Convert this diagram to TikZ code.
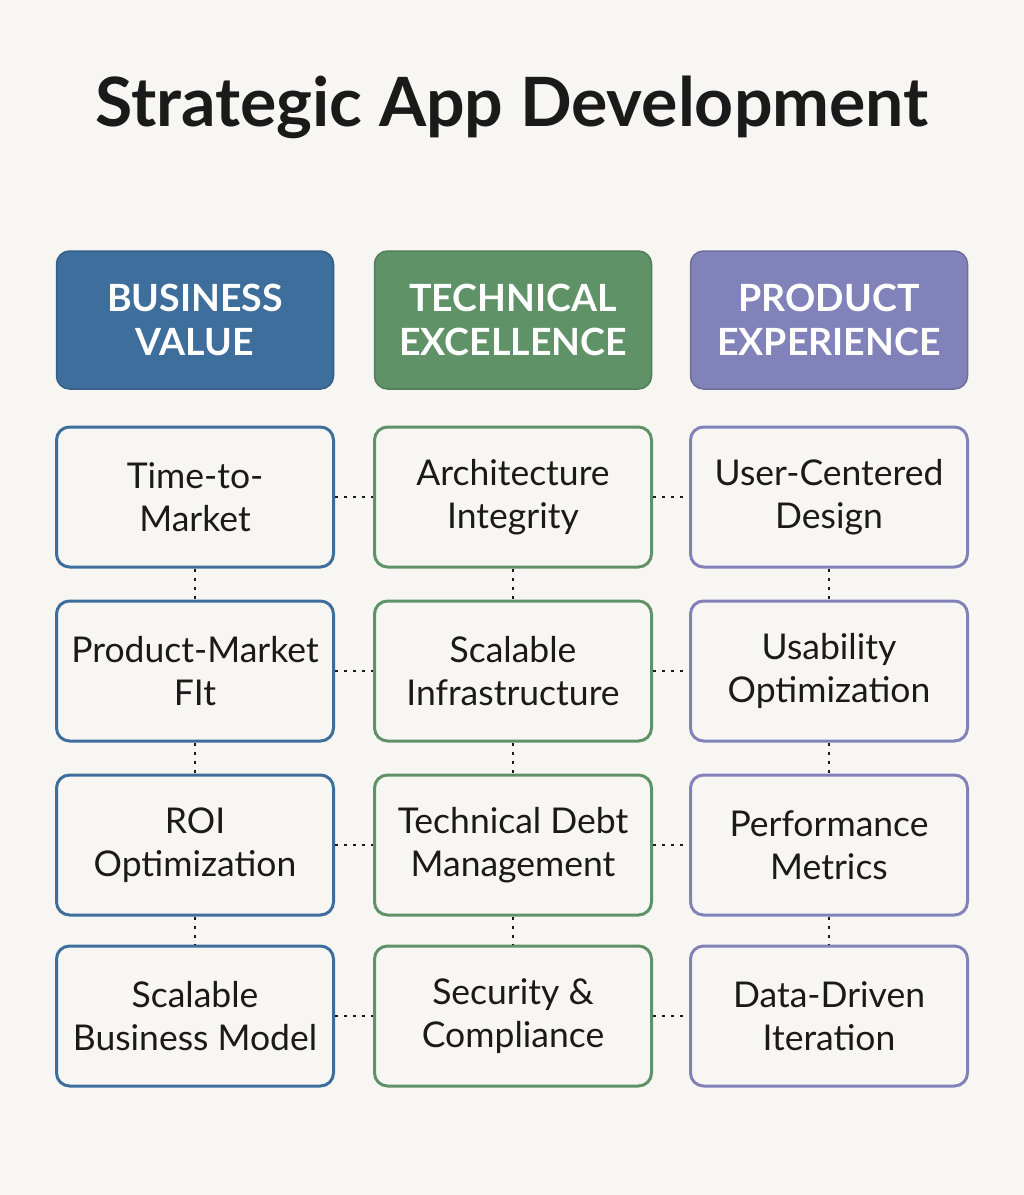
\documentclass[tikz,border=0pt]{standalone}
\usepackage{fontspec}
\setmainfont{Lato}
\definecolor{bgcol}{HTML}{F8F6F2}
\definecolor{bizcol}{HTML}{3E6E9C}
\definecolor{techcol}{HTML}{5F9367}
\definecolor{prodcol}{HTML}{8282BA}
\definecolor{inkcol}{HTML}{1A1A1A}
\tikzset{
  headbox/.style={rounded corners=13pt, line width=1.5pt, minimum width=277pt, minimum height=138pt, align=center, text=white, font=\fontsize{37.5}{44}\selectfont\bfseries},
  itembox/.style={rounded corners=13pt, line width=3pt, fill=bgcol, minimum width=277pt, minimum height=140pt, align=center, text=inkcol, font=\fontsize{35.5}{43}\selectfont},
  link/.style={line width=2.5pt, inkcol, dash pattern=on 3pt off 6pt}
}
\begin{document}
\begin{tikzpicture}[x=1pt,y=-1pt]
\useasboundingbox[fill=bgcol] (0,0) rectangle (1024,1195);
\node[text=inkcol, font=\fontsize{68}{76}\selectfont\bfseries] (title) at (512,107) {Strategic App Development};
% headers
\node[headbox, fill=bizcol, draw=bizcol!85!black] (h1) at (195,320) {BUSINESS\\VALUE};
\node[headbox, fill=techcol, draw=techcol!85!black] (h2) at (513,320) {TECHNICAL\\EXCELLENCE};
\node[headbox, fill=prodcol, draw=prodcol!85!black] (h3) at (829,320) {PRODUCT\\EXPERIENCE};
% business value
\node[itembox, draw=bizcol] (b1) at (195,497) {Time-to-\\Market};
\node[itembox, draw=bizcol] (b2) at (195,671) {Product-Market\\FIt};
\node[itembox, draw=bizcol] (b3) at (195,845) {ROI\\Optimization};
\node[itembox, draw=bizcol] (b4) at (195,1016) {Scalable\\Business Model};
% technical excellence
\node[itembox, draw=techcol] (t1) at (513,497) {Architecture\\Integrity};
\node[itembox, draw=techcol] (t2) at (513,671) {Scalable\\Infrastructure};
\node[itembox, draw=techcol] (t3) at (513,845) {Technical Debt\\Management};
\node[itembox, draw=techcol] (t4) at (513,1016) {Security \&\\Compliance};
% product experience
\node[itembox, draw=prodcol] (p1) at (829,497) {User-Centered\\Design};
\node[itembox, draw=prodcol] (p2) at (829,671) {Usability\\Optimization};
\node[itembox, draw=prodcol] (p3) at (829,845) {Performance\\Metrics};
\node[itembox, draw=prodcol] (p4) at (829,1016) {Data-Driven\\Iteration};
% dotted links
\draw[link] (b1) -- (t1) -- (p1);
\draw[link] (b2) -- (t2) -- (p2);
\draw[link] (b3) -- (t3) -- (p3);
\draw[link] (b4) -- (t4) -- (p4);
\draw[link] (b1) -- (b2) -- (b3) -- (b4);
\draw[link] (t1) -- (t2) -- (t3) -- (t4);
\draw[link] (p1) -- (p2) -- (p3) -- (p4);
\end{tikzpicture}
\end{document}
